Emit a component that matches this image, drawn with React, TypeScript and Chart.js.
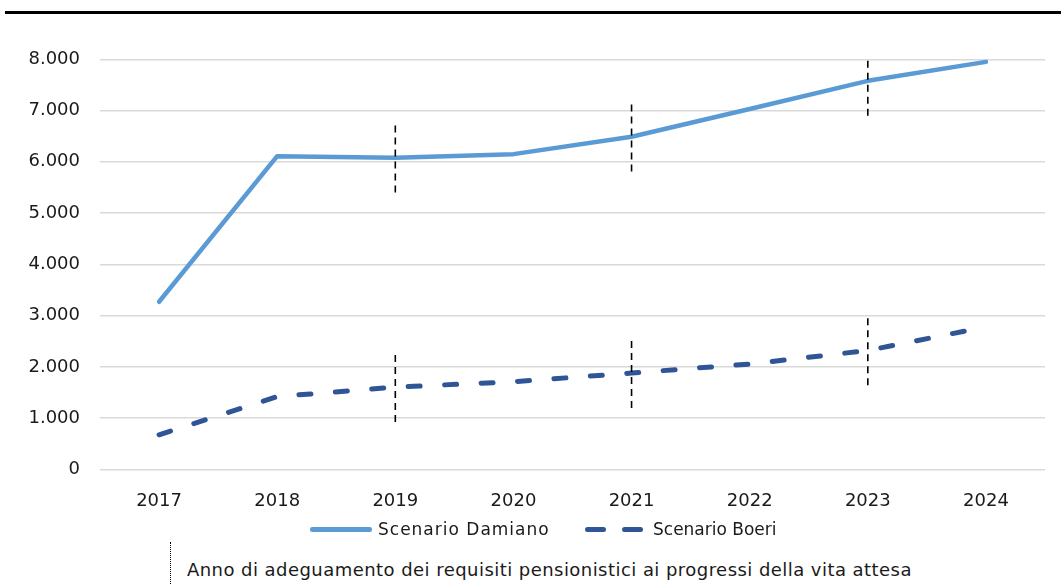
import React, { useEffect, useRef } from "react";
import { Chart, registerables } from "chart.js";

Chart.register(...registerables);

// ---- data ----
const years = ["2017", "2018", "2019", "2020", "2021", "2022", "2023", "2024"];
const scenarioDamiano = [3270, 6110, 6080, 6150, 6490, 7030, 7580, 7950];
const scenarioBoeri = [675, 1420, 1605, 1710, 1880, 2055, 2320, 2780];
const adjustmentYears = ["2019", "2021", "2023"];
const markerHalfSpan = 680;
const yMin = 0;
const yMax = 8000;
const yStep = 1000;

const seriesLabels = ["Scenario Damiano", "Scenario Boeri"];
const noteLabel =
  "Anno di adeguamento dei requisiti pensionistici ai progressi della vita attesa";

const LIGHT = "#5B9BD5";
const DARK = "#2F5597";
const FONT = "'DejaVu Sans', sans-serif";
const TEXT = "#1a1a1a";

const formatThousands = (v: number) =>
  String(v).replace(/\B(?=(\d{3})+(?!\d))/g, ".");

function markerDatasets(values: number[], key: string) {
  return adjustmentYears.map((yr) => {
    const v = values[years.indexOf(yr)];
    return {
      label: `${key}-${yr}`,
      data: [
        { x: yr, y: v - markerHalfSpan },
        { x: yr, y: v + markerHalfSpan },
      ],
      borderColor: "#000000",
      borderWidth: 1.6,
      borderDash: [7, 5],
      pointRadius: 0,
      fill: false,
      order: 0,
    };
  });
}

export default function App() {
  const canvasRef = useRef<HTMLCanvasElement | null>(null);

  useEffect(() => {
    document.body.style.margin = "0";
    const canvas = canvasRef.current;
    if (!canvas) return;
    const chart = new Chart(canvas, {
      type: "line",
      data: {
        labels: years,
        datasets: [
          ...markerDatasets(scenarioDamiano, "d"),
          ...markerDatasets(scenarioBoeri, "b"),
          {
            label: seriesLabels[0],
            data: scenarioDamiano,
            borderColor: LIGHT,
            backgroundColor: LIGHT,
            borderWidth: 4.5,
            borderCapStyle: "round",
            borderJoinStyle: "round",
            pointRadius: 0,
            tension: 0,
            order: 1,
          },
          {
            label: seriesLabels[1],
            data: scenarioBoeri,
            borderColor: DARK,
            backgroundColor: DARK,
            borderWidth: 5,
            borderDash: [12, 24.5],
            borderCapStyle: "round",
            borderJoinStyle: "round",
            pointRadius: 0,
            tension: 0,
            order: 1,
          },
        ] as any,
      },
      options: {
        responsive: false,
        animation: false,
        devicePixelRatio: 1,
        layout: { padding: { top: 59.3, left: 0, right: 16, bottom: 4 } },
        plugins: {
          legend: { display: false },
          tooltip: { enabled: false },
        },
        scales: {
          x: {
            type: "category",
            offset: true,
            grid: { display: false, drawTicks: false },
            border: { display: false },
            ticks: {
              padding: 21,
              color: TEXT,
              font: { family: FONT, size: 18 },
            },
          },
          y: {
            min: yMin,
            max: yMax,
            grid: { color: "#d9d9d9", lineWidth: 1.5, drawTicks: false },
            border: { display: false },
            afterFit: (scale: any) => {
              scale.width = 100;
            },
            ticks: {
              stepSize: yStep,
              padding: 20,
              color: TEXT,
              font: { family: FONT, size: 18 },
              callback: (v: any) => formatThousands(Number(v)),
            },
          },
        },
      },
    });
    return () => chart.destroy();
  }, []);

  const textStyle: React.CSSProperties = {
    position: "absolute",
    fontFamily: FONT,
    fontSize: 17,
    lineHeight: "20px",
    color: TEXT,
    whiteSpace: "nowrap",
  };

  return (
    <div
      style={{
        position: "relative",
        width: 1061,
        height: 584,
        background: "#fff",
        overflow: "hidden",
      }}
    >
      <canvas
        ref={canvasRef}
        width={1061}
        height={537}
        style={{ position: "absolute", left: 0, top: 0, width: 1061, height: 537 }}
      />
      {/* top rule */}
      <div
        style={{
          position: "absolute",
          left: 5,
          top: 11,
          width: 1056,
          height: 3,
          background: "#000",
        }}
      />
      {/* legend row */}
      <div
        style={{
          position: "absolute",
          left: 310,
          top: 527,
          width: 62,
          height: 4.5,
          borderRadius: 2.25,
          background: LIGHT,
        }}
      />
      <div style={{ ...textStyle, left: 378, top: 519, letterSpacing: 1 }}>
        {seriesLabels[0]}
      </div>
      <div
        style={{
          position: "absolute",
          left: 585,
          top: 527,
          width: 21,
          height: 5,
          borderRadius: 2.5,
          background: DARK,
        }}
      />
      <div
        style={{
          position: "absolute",
          left: 622,
          top: 527,
          width: 21,
          height: 5,
          borderRadius: 2.5,
          background: DARK,
        }}
      />
      <div style={{ ...textStyle, left: 653, top: 519 }}>{seriesLabels[1]}</div>
      {/* note row */}
      <div
        style={{
          position: "absolute",
          left: 170,
          top: 542,
          width: 0,
          height: 42,
          borderLeft: "1px dotted #000",
        }}
      />
      <div style={{ ...textStyle, left: 187, top: 560, fontSize: 18, letterSpacing: 0.45 }}>
        {noteLabel}
      </div>
    </div>
  );
}
